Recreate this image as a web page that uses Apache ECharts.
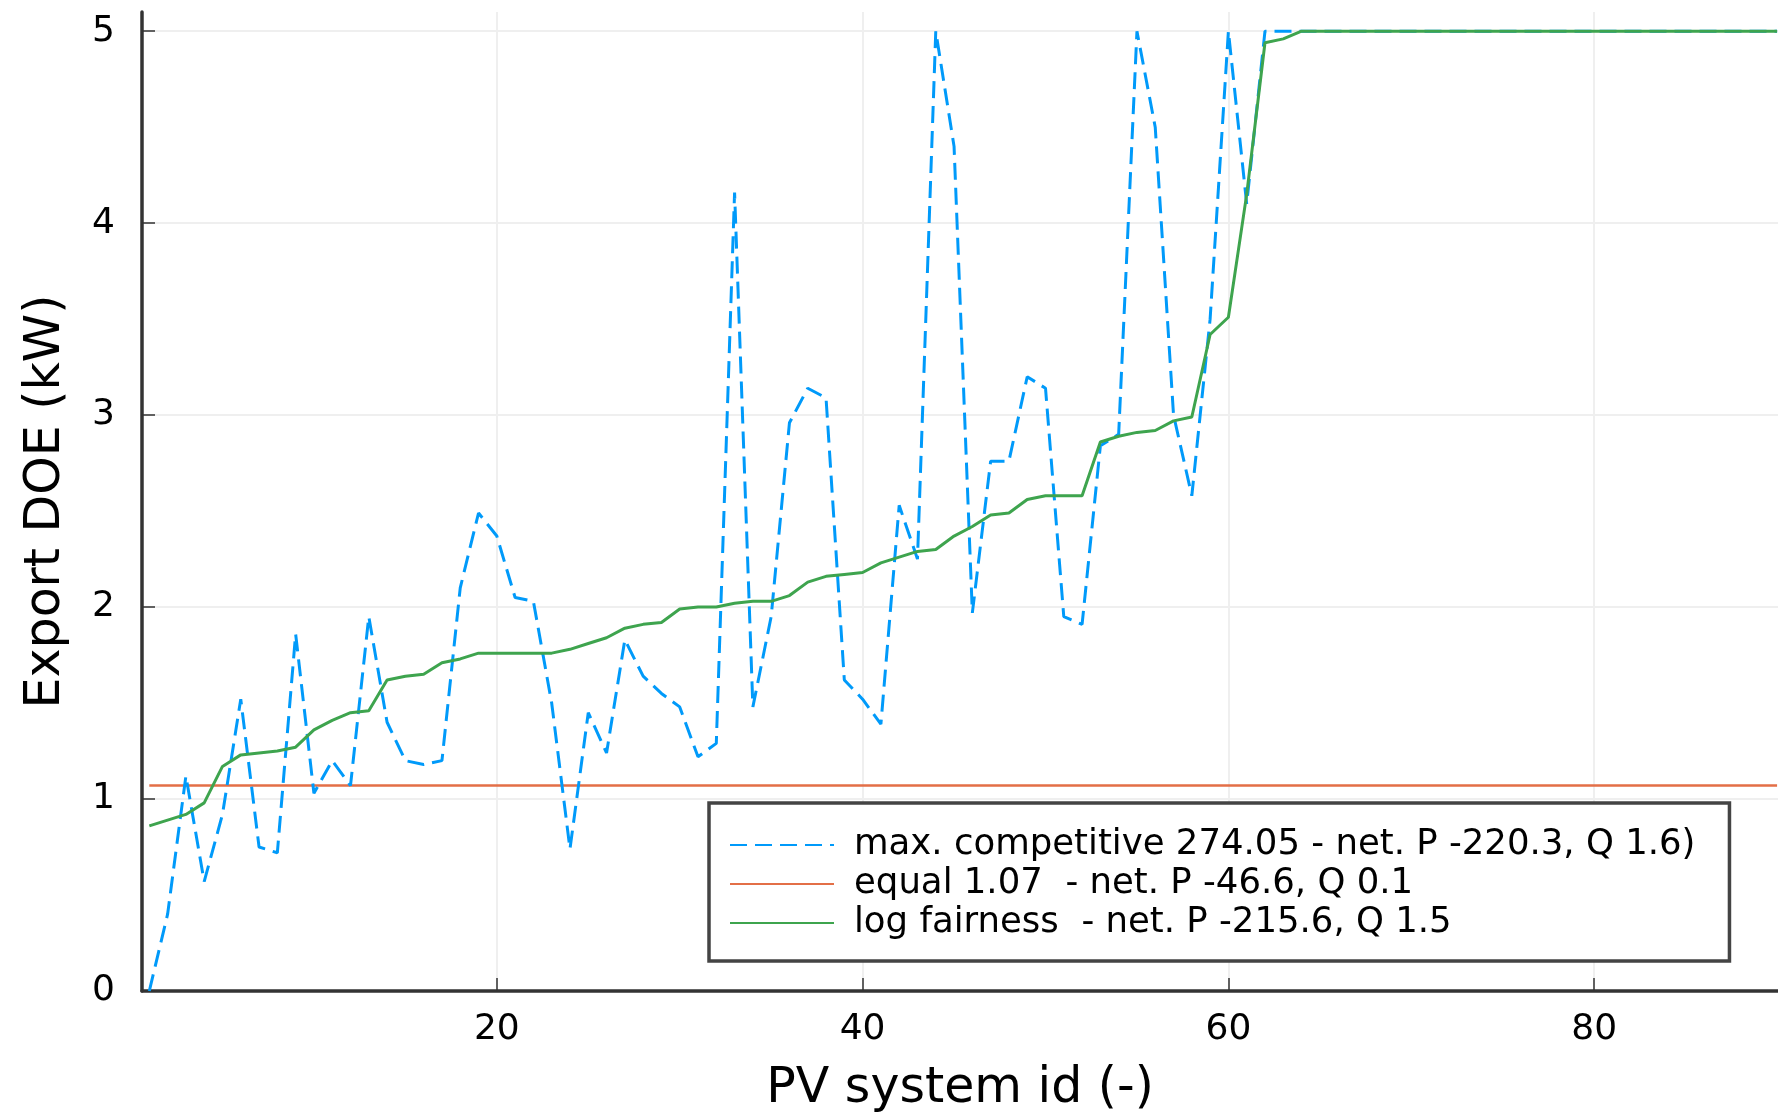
<!DOCTYPE html>
<html>
<head>
<meta charset="utf-8">
<script src="https://cdn.jsdelivr.net/npm/echarts@6/dist/echarts.min.js"></script>
<style>
html,body{margin:0;padding:0;background:#fff;}
#chart{width:1778px;height:1112px;}
</style>
</head>
<body>
<div id="chart"></div>
<script>
// ---- data ----
const seriesNames = [
  'max. competitive 274.05 - net. P -220.3, Q 1.6)',
  'equal 1.07  - net. P -46.6, Q 0.1',
  'log fairness  - net. P -215.6, Q 1.5'
];
const competitiveDOE = [
  0.00, 0.40, 1.12, 0.57, 0.92, 1.52, 0.75, 0.72, 1.86, 1.03,
  1.20, 1.07, 1.95, 1.40, 1.20, 1.18, 1.20, 2.10, 2.49, 2.37,
  2.05, 2.03, 1.50, 0.74, 1.45, 1.24, 1.83, 1.64, 1.55, 1.48,
  1.22, 1.29, 4.16, 1.48, 1.95, 2.96, 3.14, 3.09, 1.62, 1.52,
  1.39, 2.53, 2.25, 5.00, 4.40, 1.97, 2.76, 2.76, 3.20, 3.14,
  1.95, 1.91, 2.84, 2.90, 5.00, 4.50, 3.00, 2.58, 3.50, 5.00,
  4.10, 5.00, 5.00, 5.00, 5.00, 5.00, 5.00, 5.00, 5.00, 5.00,
  5.00, 5.00, 5.00, 5.00, 5.00, 5.00, 5.00, 5.00, 5.00, 5.00,
  5.00, 5.00, 5.00, 5.00, 5.00, 5.00, 5.00, 5.00, 5.00, 5.00
];
const equalDOE = 1.07;
const logFairnessDOE = [
  0.86, 0.89, 0.92, 0.98, 1.17, 1.23, 1.24, 1.25, 1.27, 1.36,
  1.41, 1.45, 1.46, 1.62, 1.64, 1.65, 1.71, 1.73, 1.76, 1.76,
  1.76, 1.76, 1.76, 1.78, 1.81, 1.84, 1.89, 1.91, 1.92, 1.99,
  2.00, 2.00, 2.02, 2.03, 2.03, 2.06, 2.13, 2.16, 2.17, 2.18,
  2.23, 2.26, 2.29, 2.30, 2.37, 2.42, 2.48, 2.49, 2.56, 2.58,
  2.58, 2.58, 2.86, 2.89, 2.91, 2.92, 2.97, 2.99, 3.42, 3.51,
  4.15, 4.94, 4.96, 5.00, 5.00, 5.00, 5.00, 5.00, 5.00, 5.00,
  5.00, 5.00, 5.00, 5.00, 5.00, 5.00, 5.00, 5.00, 5.00, 5.00,
  5.00, 5.00, 5.00, 5.00, 5.00, 5.00, 5.00, 5.00, 5.00, 5.00
];
const xTicks = [20, 40, 60, 80];
const yTicks = [0, 1, 2, 3, 4, 5];

// ---- build ----
const ids = competitiveDOE.map((_, i) => i + 1);
const pairs = arr => ids.map((id, i) => [id, arr[i]]);
const FONT = 'DejaVu Sans';
const colors = ['#009AFA', '#E36F47', '#3EA44E'];

const chart = echarts.init(document.getElementById('chart'), null, {renderer: 'canvas'});
chart.setOption({
  animation: false,
  backgroundColor: '#ffffff',
  grid: {left: 142, right: 0, top: 12, bottom: 121, containLabel: false, outerBoundsMode: 'none'},
  xAxis: {
    type: 'value', min: 0.6, max: 90.05,
    name: 'PV system id (-)', nameLocation: 'middle', nameGap: 74,
    nameTextStyle: {fontFamily: FONT, fontSize: 49, color: '#000'},
    axisLine: {show: true, onZero: false, lineStyle: {color: '#333', width: 3.5}},
    axisTick: {show: true, inside: true, length: 13, customValues: xTicks, lineStyle: {color: '#333', width: 1.5}},
    axisLabel: {customValues: xTicks, margin: 21, fontFamily: FONT, fontSize: 36, color: '#000'},
    splitLine: {show: false}
  },
  yAxis: {
    type: 'value', min: 0, max: 5.1, interval: 1,
    name: 'Export DOE (kW)', nameLocation: 'middle', nameGap: 71,
    nameTextStyle: {fontFamily: FONT, fontSize: 49, color: '#000'},
    axisLine: {show: true, onZero: false, lineStyle: {color: '#333', width: 3.5}},
    axisTick: {show: true, inside: true, length: 13, customValues: yTicks, lineStyle: {color: '#333', width: 1.5}},
    axisLabel: {customValues: yTicks, margin: 27, fontFamily: FONT, fontSize: 36, color: '#000'},
    splitLine: {show: true, lineStyle: {color: '#efefef', width: 2}}
  },
  legend: {
    show: true, orient: 'vertical', left: 709, top: 803,
    backgroundColor: '#fff', borderColor: '#444', borderWidth: 3.5,
    padding: [24, 34, 20, 20],
    itemWidth: 104, itemHeight: 14, itemGap: 3,
    itemStyle: {opacity: 0},
    textStyle: {fontFamily: FONT, fontSize: 35.5, lineHeight: 35, color: '#000', padding: [0, 0, 0, 15]},
    data: seriesNames
  },
  series: [
    {
      name: seriesNames[0], type: 'line', data: pairs(competitiveDOE),
      symbol: 'none', clip: true, z: 3,
      lineStyle: {color: colors[0], width: 3, type: [17, 8]},
      itemStyle: {color: colors[0]},
      markLine: {
        silent: true, symbol: 'none', label: {show: false},
        lineStyle: {color: '#efefef', width: 2, type: 'solid'},
        data: xTicks.map(v => ({xAxis: v})), z: 0
      }
    },
    {
      name: seriesNames[1], type: 'line', data: ids.map(id => [id, equalDOE]),
      symbol: 'none', z: 2,
      lineStyle: {color: colors[1], width: 2.5},
      itemStyle: {color: colors[1]}
    },
    {
      name: seriesNames[2], type: 'line', data: pairs(logFairnessDOE),
      symbol: 'none', z: 4,
      lineStyle: {color: colors[2], width: 3},
      itemStyle: {color: colors[2]}
    }
  ]
});
</script>
</body>
</html>
